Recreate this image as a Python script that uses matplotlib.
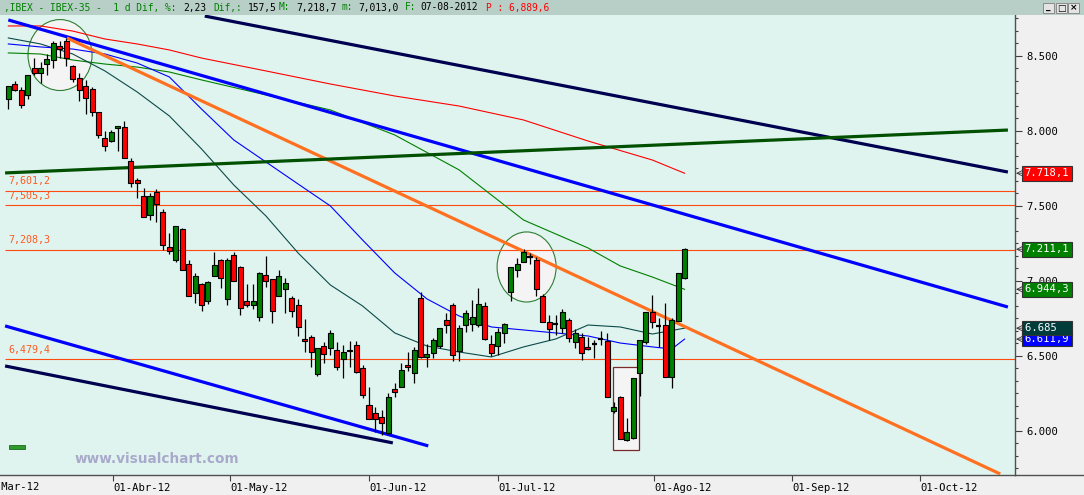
import matplotlib
matplotlib.use('Agg')
import matplotlib.pyplot as plt
import matplotlib.transforms as mtrans
from matplotlib.patches import Ellipse, Rectangle
from matplotlib.ticker import MultipleLocator, FuncFormatter

# daily candles, IBEX-35 (index 0 = first visible session, last = 07-08-2012)
opens = [8213, 8313, 8273, 8240, 8420, 8386, 8446, 8473, 8566, 8600,
         8433, 8353, 8300, 8280, 8126, 7953, 7933, 8020, 8026, 7800,
         7673, 7566, 7440, 7593, 7460, 7226, 7140, 7346, 7113, 6920,
         6980, 6866, 7033, 7140, 6880, 7173, 7093, 6866, 6840, 6760,
         7040, 7013, 6900, 6946, 6886, 6840, 6613, 6626, 6380, 6566,
         6553, 6540, 6480, 6540, 6573, 6420, 6173, 6120, 6093, 5986,
         6280, 6293, 6440, 6386, 6886, 6493, 6520, 6566, 6740, 6840,
         6533, 6706, 6713, 6706, 6833, 6580, 6566, 6653, 6926, 7073,
         7126, 7160, 7140, 6900, 6726, 6713, 6686, 6740, 6593, 6626,
         6560, 6580, 6613, 6600, 6133, 6226, 5940, 5953, 6386, 6593,
         6793, 6700, 6706, 6360, 6733, 7020]
highs = [8300, 8333, 8293, 8373, 8486, 8460, 8513, 8600, 8600, 8620,
         8440, 8386, 8340, 8293, 8126, 8000, 8006, 8033, 8066, 7820,
         7686, 7620, 7586, 7613, 7480, 7320, 7366, 7353, 7140, 7053,
         6986, 7000, 7193, 7146, 7153, 7193, 7100, 6980, 6980, 7060,
         7166, 7013, 7073, 7020, 6900, 6880, 6746, 6640, 6553, 6593,
         6673, 6593, 6573, 6600, 6600, 6440, 6293, 6160, 6140, 6253,
         6320, 6453, 6526, 6560, 6926, 6580, 6620, 6686, 6786, 6853,
         6706, 6806, 6873, 6953, 6860, 6640, 6686, 6720, 7093, 7153,
         7213, 7186, 7160, 6913, 6773, 6773, 6813, 6753, 6680, 6653,
         6626, 6606, 6666, 6653, 6193, 6233, 6086, 6353, 6606, 6793,
         6906, 6753, 6853, 6753, 7053, 7218.7]
lows = [8146, 8266, 8153, 8213, 8373, 8320, 8373, 8420, 8486, 8433,
        8326, 8200, 8113, 8100, 7953, 7866, 7926, 7866, 7820, 7626,
        7553, 7426, 7406, 7393, 7206, 7180, 7126, 7073, 6900, 6853,
        6800, 6846, 7033, 6953, 6840, 7000, 6773, 6826, 6813, 6733,
        6960, 6720, 6900, 6786, 6760, 6633, 6526, 6426, 6366, 6453,
        6506, 6406, 6353, 6426, 6386, 6220, 6080, 5993, 5973, 5980,
        6226, 6293, 6400, 6320, 6486, 6426, 6486, 6553, 6653, 6466,
        6466, 6660, 6666, 6693, 6606, 6500, 6506, 6586, 6866, 7026,
        7126, 7113, 6900, 6726, 6606, 6640, 6653, 6593, 6553, 6473,
        6540, 6486, 6573, 6226, 6120, 5946, 5933, 5946, 6233, 6580,
        6686, 6560, 6360, 6286, 6733, 7013]
closes = [8300, 8273, 8173, 8373, 8386, 8420, 8480, 8586, 8546, 8486,
          8346, 8273, 8220, 8126, 7973, 7900, 7993, 8033, 7820, 7653,
          7653, 7426, 7566, 7513, 7240, 7200, 7366, 7073, 6900, 7033,
          6840, 6993, 7106, 7020, 7140, 7000, 6820, 6840, 6866, 7053,
          7000, 6800, 7033, 6986, 6800, 6693, 6600, 6526, 6553, 6513,
          6653, 6426, 6526, 6533, 6393, 6240, 6080, 6080, 6053, 6226,
          6260, 6406, 6426, 6540, 6493, 6513, 6606, 6686, 6706, 6506,
          6686, 6786, 6760, 6846, 6613, 6520, 6660, 6713, 7093, 7113,
          7193, 7160, 6946, 6726, 6680, 6713, 6793, 6620, 6653, 6520,
          6546, 6580, 6613, 6226, 6160, 5946, 5993, 6353, 6606, 6793,
          6726, 6700, 6360, 6740, 7053, 7211.1]

# moving averages, read at a few sessions
ma_red_x = [0, 5, 10, 15, 20, 25, 30, 40, 50, 60, 70, 80, 90, 100, 105]
ma_red_y = [8700, 8700, 8666, 8613, 8580, 8540, 8486, 8400, 8313, 8233, 8166, 8073, 7933, 7806, 7718]
ma_green_x = [0, 5, 10, 15, 20, 25, 30, 40, 50, 60, 70, 80, 85, 90, 95, 100, 105]
ma_green_y = [8520, 8513, 8473, 8446, 8426, 8393, 8340, 8240, 8140, 7973, 7740, 7406, 7313, 7220, 7100, 7026, 6944]
ma_teal_x = [0, 5, 10, 15, 20, 25, 30, 35, 40, 45, 50, 55, 60, 65, 70, 75, 80, 85, 90, 95, 100, 105]
ma_teal_y = [8620, 8580, 8513, 8400, 8260, 8100, 7880, 7640, 7433, 7186, 6973, 6833, 6653, 6566, 6526,
             6493, 6560, 6613, 6706, 6693, 6646, 6685]
ma_blue_x = [0, 5, 10, 15, 20, 25, 30, 35, 40, 45, 50, 55, 60, 65, 70, 75, 80, 85, 90, 95, 100, 103, 105]
ma_blue_y = [8580, 8560, 8546, 8513, 8453, 8360, 8146, 7940, 7793, 7646, 7500, 7273, 7053, 6880, 6766,
             6693, 6673, 6653, 6633, 6586, 6560, 6546, 6612]

# drawn trend lines: ((x0, y0), (x1, y1)), colour
trend_lines = [
    (((30.5, 8766), (155.2, 7726)), '#000050'),
    (((0.0, 8740), (155.2, 6826)), '#0000ff'),
    (((-0.5, 6700), (65.2, 5900)), '#0000ff'),
    (((-0.5, 6433), (59.7, 5920)), '#000050'),
    (((9.1, 8620), (154.0, 5713)), '#ff7020'),
    (((-0.5, 7720), (155.2, 8006)), '#005000'),
]
levels = [7601.2, 7505.3, 7208.3, 6479.4]
level_labels = ['7,601,2', '7,505,3', '7,208,3', '6,479,4']

last_vals = [7718.1, 7211.1, 6944.3, 6611.9, 6685]
last_texts = ['7.718,1', '7.211,1', '6.944,3', '6.611,9', '6.685  ']
last_colors = ['#ff0000', '#008000', '#008000', '#0000ff', '#003c3c']

date_pos = [16.27, 34.43, 56.0, 76.04, 100.3, 121.7, 141.6]
date_labels = ['01-Abr-12', '01-May-12', '01-Jun-12', '01-Jul-12', '01-Ago-12', '01-Sep-12', '01-Oct-12']

header = [(4, ',IBEX - IBEX-35 -  1 d Dif, %:', '#008000'), (183, '2,23', '#000000'),
          (213, 'Dif,:', '#008000'), (248, '157,5', '#000000'), (279, 'M:', '#008000'),
          (296, '7,218,7', '#000000'), (342, 'm:', '#008000'), (358, '7,013,0', '#000000'),
          (405, 'F:', '#008000'), (420, '07-08-2012', '#000000'), (486, 'P : 6,889,6', '#ff0000')]

W, H = 1084, 495
MONO = 'DejaVu Sans Mono'

fig = plt.figure(figsize=(W / 100, H / 100), dpi=100, facecolor='#f0f0f0')
ax = fig.add_axes([0, 20 / H, 1015 / W, 460 / H])
ax.set_facecolor('#e0f4ef')
ax.set_xlim(-1.29, 156.3)
ax.set_ylim(5706, 8773)

# header bar
fig.patches.append(Rectangle((0, 1 - 15 / H), 1, 15 / H, transform=fig.transFigure,
                             fc='#b8cfc8', ec='none', zorder=0))
for px, txt, col in header:
    fig.text(px / W, 1 - 7.5 / H, txt, color=col, family=MONO, fontsize=6.9, va='center')
for k, g in enumerate(['_', '□', '×']):
    x0 = 1043 + 12.5 * k
    fig.patches.append(Rectangle((x0 / W, 1 - 13 / H), 11 / W, 10 / H, transform=fig.transFigure,
                                 fc='#e4e4e4', ec='#808080', lw=0.6))
    fig.text((x0 + 5.5) / W, 1 - 8 / H, g, ha='center', va='center', fontsize=6.5, fontweight='bold')

# highlight shapes
ax.add_patch(Ellipse((8.03, 8506), 9.94, 473, fc='#f4f4f4', ec='#2e7d32', lw=0.8, zorder=1))
ax.add_patch(Ellipse((80.47, 7093), 9.16, 467, fc='#f4f4f4', ec='#2e7d32', lw=0.8, zorder=1))
ax.add_patch(Rectangle((93.9, 5873), 4.0, 553, fc='#f4f4f4', ec='#7a2a2a', lw=0.9, zorder=1))

# horizontal levels
for lv, lab in zip(levels, level_labels):
    ax.hlines(lv, -0.5, 156.3, color='#ff4a10', lw=0.8, zorder=2)
    ax.text(0.0, lv + 30, lab, color='#ff5a20', family=MONO, fontsize=7.2, va='bottom', zorder=2)

# moving averages
ax.plot(ma_red_x, ma_red_y, color='#ff0000', lw=0.8, zorder=3)
ax.plot(ma_green_x, ma_green_y, color='#008000', lw=0.8, zorder=3)
ax.plot(ma_teal_x, ma_teal_y, color='#0b4a48', lw=0.8, zorder=3)
ax.plot(ma_blue_x, ma_blue_y, color='#0000ff', lw=0.8, zorder=3)

# trend lines
for (p0, p1), col in trend_lines:
    ax.plot([p0[0], p1[0]], [p0[1], p1[1]], color=col, lw=2.3, solid_capstyle='butt', zorder=4)

# candles
bw = 0.78
for i, (o, h, l, c) in enumerate(zip(opens, highs, lows, closes)):
    ax.vlines(i, l, h, color='black', lw=0.9, zorder=5)
    if o == c:
        ax.hlines(o, i - bw / 2, i + bw / 2, color='black', lw=1.6, zorder=6)
        continue
    col = '#008000' if c > o else '#ff0000'
    ax.bar(i, max(abs(c - o), 8), bw, bottom=min(o, c), color=col, edgecolor='black', lw=0.8, zorder=6)

# axes look
for s in ['left', 'top']:
    ax.spines[s].set_visible(False)
for s in ['right', 'bottom']:
    ax.spines[s].set_color('#505050')
    ax.spines[s].set_linewidth(1.0)
fig.lines.append(plt.Line2D([1015 / W, 1], [20 / H, 20 / H], transform=fig.transFigure,
                            color='#505050', lw=1.0))

ax.yaxis.tick_right()
ax.yaxis.set_major_locator(MultipleLocator(500))
ax.yaxis.set_minor_locator(MultipleLocator(500 / 6))
ax.yaxis.set_major_formatter(FuncFormatter(lambda v, p: f'{v:,.0f}'.replace(',', '.')))
ax.tick_params(axis='y', which='major', length=5, width=0.8, color='#404040', pad=3,
               labelsize=7.6, labelcolor='black')
ax.tick_params(axis='y', which='minor', length=2.5, width=0.8, color='#404040')
for t in ax.get_yticklabels():
    t.set_family(MONO)

ax.set_xticks(date_pos)
ax.set_xticklabels(date_labels, family=MONO, fontsize=7.6, ha='left')
ax.tick_params(axis='x', length=4.5, width=0.8, color='#404040', pad=1.5)
fig.text(-18 / W, 7.5 / H, '01-Mar-12', family=MONO, fontsize=7.6, va='center')

# last-value boxes on the price scale
blend = mtrans.blended_transform_factory(ax.transAxes, ax.transData)
for v, txt, col in zip(last_vals, last_texts, last_colors):
    ax.text(1.0095, v, txt, transform=blend, color='white', family=MONO, fontsize=7.6, va='center',
            ha='left', clip_on=False, zorder=10,
            bbox=dict(boxstyle='square,pad=0.22', fc=col, ec='#333333', lw=0.8))
    ax.annotate('', xy=(1.001, v), xytext=(1.008, v), xycoords=blend, textcoords=blend,
                arrowprops=dict(arrowstyle='->', lw=0.6, color='#333333', shrinkA=0, shrinkB=0))

# little indicator tab and watermark
ax.add_patch(Rectangle((9 / 1015, 26 / 460), 16 / 1015, 4 / 460, transform=ax.transAxes,
                       fc='#2e9a2e', ec='#1a6a1a', lw=0.6, zorder=6))
ax.text(75 / 1015, 16 / 460, 'www.visualchart.com', transform=ax.transAxes, color='#a9aacb',
        fontsize=9.8, fontweight='bold', va='center', ha='left', zorder=6)

fig.savefig('out.png', dpi=100, facecolor=fig.get_facecolor())
